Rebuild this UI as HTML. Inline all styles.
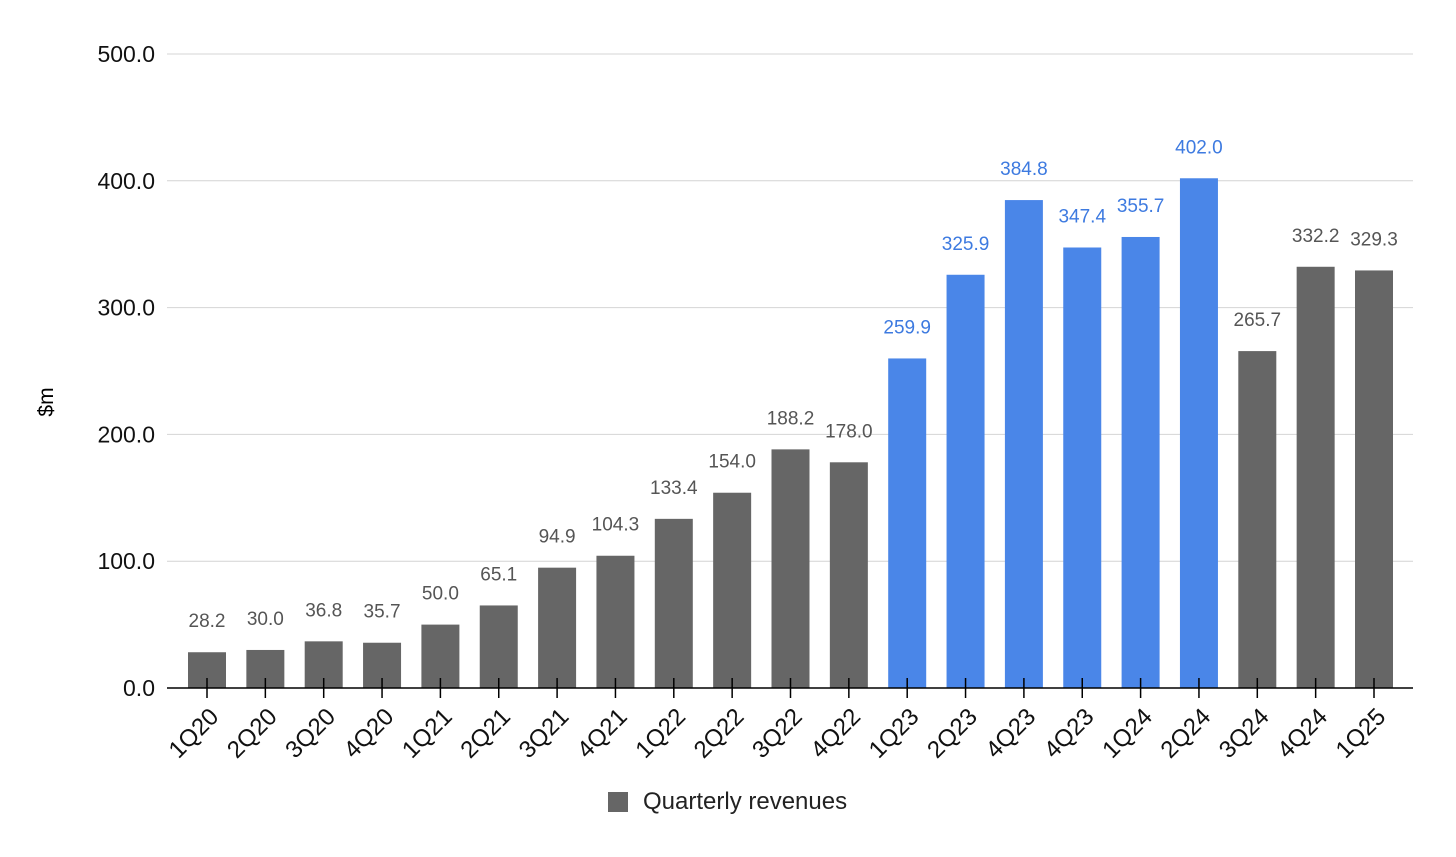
<!DOCTYPE html>
<html><head><meta charset="utf-8"><style>
body{margin:0;background:#fff;}
svg{display:block;font-family:"Liberation Sans",Arial,sans-serif;}
</style></head><body>
<svg id="chart" width="1456" height="857">
<g id="grid"></g>
<g id="yticks"></g>
<text x="53" y="402" transform="rotate(-90 53 402)" text-anchor="middle" font-size="21" fill="#000">$m</text>
<g id="bars"></g>
<g id="vals"></g>
<line x1="167" x2="1413" y1="688" y2="688" stroke="#000" stroke-width="1.5"/>
<g id="xticks"></g>
<g>
<rect x="608" y="792" width="20" height="20" fill="#666"/>
<text x="643" y="809" font-size="24" fill="#222">Quarterly revenues</text>
</g>
</svg>
<script>
const categories=["1Q20","2Q20","3Q20","4Q20","1Q21","2Q21","3Q21","4Q21","1Q22","2Q22","3Q22","4Q22","1Q23","2Q23","4Q23","4Q23","1Q24","2Q24","3Q24","4Q24","1Q25"];
const revenues=[28.2,30.0,36.8,35.7,50.0,65.1,94.9,104.3,133.4,154.0,188.2,178.0,259.9,325.9,384.8,347.4,355.7,402.0,265.7,332.2,329.3];
const highlighted=[0,0,0,0,0,0,0,0,0,0,0,0,1,1,1,1,1,1,0,0,0];
const yTicks=[0,100,200,300,400,500];
const NS="http://www.w3.org/2000/svg";
const y0=688,pxPerUnit=(688-54)/500,x0=207,step=(1374-207)/20,bw=38;
const yS=v=>y0-v*pxPerUnit, xS=i=>x0+i*step;
function mk(t,a,p){const e=document.createElementNS(NS,t);for(const k in a)e.setAttribute(k,a[k]);p.appendChild(e);return e;}
const grid=document.getElementById('grid'),yt=document.getElementById('yticks');
yTicks.forEach(v=>{
 if(v>0){const l=mk('line',{x1:167,x2:1413,y1:yS(v),y2:yS(v),stroke:'#d4d4d4','stroke-width':1},grid);
 
 }
 const t=mk('text',{x:155,y:yS(v)+8,'text-anchor':'end','font-size':23,fill:'#111'},yt);t.textContent=v.toFixed(1);
 
 
});
const bars=document.getElementById('bars'),vals=document.getElementById('vals'),xt=document.getElementById('xticks');
revenues.forEach((v,i)=>{
 const c=highlighted[i]?'#4a86e8':'#666',lc=highlighted[i]?'#3d7ae0':'#555';
 const r=mk('rect',{x:xS(i)-bw/2,y:yS(v),width:bw,height:y0-yS(v),fill:c},bars);
 
 
 const t=mk('text',{x:xS(i),y:yS(v)-25,'text-anchor':'middle','font-size':19,fill:lc},vals);t.textContent=v.toFixed(1);
 
 
 const tk=mk('line',{x1:xS(i),x2:xS(i),y1:678,y2:698,stroke:'#000','stroke-width':1.5},xt);
 
 
 const lx=xS(i)+13,ly=718;
 const xl=mk('text',{x:lx,y:ly,'text-anchor':'end','font-size':24,fill:'#111',transform:`rotate(-45 ${lx} ${ly})`},xt);xl.textContent=categories[i];
 
 
});
</script>
</body></html>
